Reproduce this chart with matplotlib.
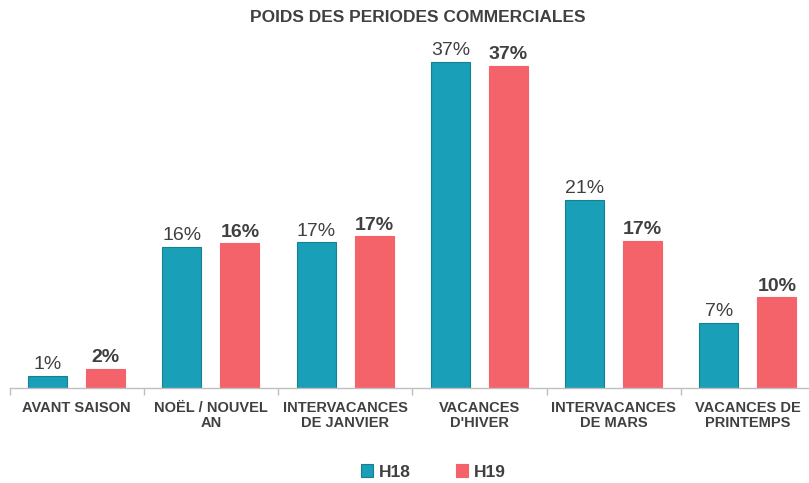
import numpy as np
from matplotlib import pyplot as plt

plt.rcParams['font.family'] = ['Liberation Sans', 'DejaVu Sans']

categories = ['AVANT SAISON', 'NOËL / NOUVEL\nAN', 'INTERVACANCES\nDE JANVIER',
              'VACANCES\nD\'HIVER', 'INTERVACANCES\nDE MARS', 'VACANCES DE\nPRINTEMPS']
h18 = [1.4, 16.0, 16.5, 37.0, 21.3, 7.4]
h19 = [2.2, 16.4, 17.2, 36.5, 16.7, 10.3]
h18_labels = ['1%', '16%', '17%', '37%', '21%', '7%']
h19_labels = ['2%', '16%', '17%', '37%', '17%', '10%']

teal = '#1a9fb8'
coral = '#f4626a'
txt = '#404040'

fig = plt.figure(figsize=(8.09, 4.83), dpi=100)
ax = fig.add_axes([9.5 / 809, 95 / 483, 805.5 / 809, 352.8 / 483])

X = np.arange(len(categories))
off = 0.216
w = 0.29
ax.bar(X - off, h18, width=w, color=teal, edgecolor='#15808f', linewidth=0.8, label='H18')
ax.bar(X + off, h19, width=w, color=coral, edgecolor=coral, linewidth=0.8, label='H19')

for x, y, s in zip(X, h18, h18_labels):
    ax.text(x - off, y + 0.3, s, ha='center', va='bottom', fontsize=14, color=txt)
for x, y, s in zip(X, h19, h19_labels):
    ax.text(x + off, y + 0.3, s, ha='center', va='bottom', fontsize=14, color=txt,
            fontweight='bold')

ax.set_xlim(-0.5, 5.5)
ax.set_ylim(0, 40)
ax.set_yticks([])
for side in ['left', 'right', 'top']:
    ax.spines[side].set_visible(False)
ax.spines['bottom'].set_color('#bfbfbf')
ax.spines['bottom'].set_linewidth(1)

ax.set_xticks(np.arange(-0.5, 6.0, 1.0))
ax.set_xticklabels([])
ax.tick_params(axis='x', length=5, color='#bfbfbf', width=1)
ax.set_xticks(X, minor=True)
ax.set_xticklabels(categories, minor=True, fontsize=10.5, fontweight='bold', color=txt,
                   linespacing=1.15)
ax.tick_params(axis='x', which='minor', length=0, pad=9)

fig.text(418 / 809, 1 - 18 / 483, 'POIDS DES PERIODES COMMERCIALES', ha='center', va='center',
         fontsize=12.5, fontweight='bold', color=txt)

leg = fig.legend(loc='center', bbox_to_anchor=(433.5 / 809, 11 / 483), ncol=2, frameon=False,
                 handlelength=0.7, handleheight=0.7, handletextpad=0.35, columnspacing=2.6,
                 prop={'size': 12.5, 'weight': 'bold'})
for t in leg.get_texts():
    t.set_color(txt)

fig.savefig('out.png', dpi=100)
